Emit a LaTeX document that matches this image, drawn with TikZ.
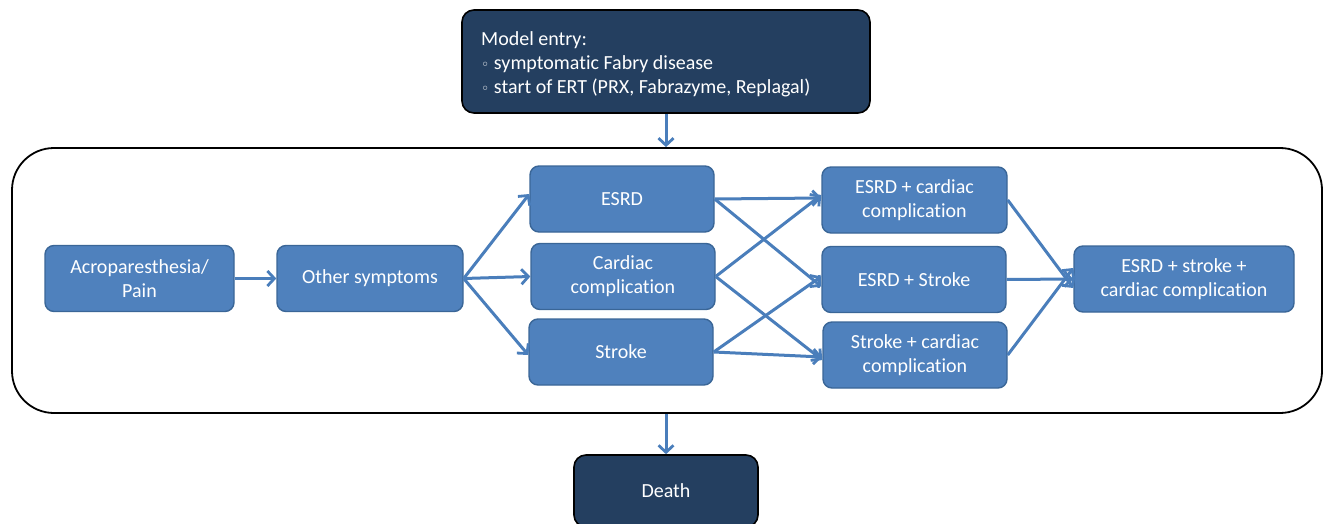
\documentclass[tikz,border=0pt]{standalone}
\usepackage{fontspec}
\setmainfont[RawFeature=-liga]{Carlito}
\newfontfamily\symfont{DejaVu Sans}
\usetikzlibrary{arrows.meta}
\definecolor{boxfill}{HTML}{4F81BD}
\definecolor{boxline}{HTML}{3A6697}
\definecolor{darkfill}{HTML}{243F60}
\definecolor{arrowc}{HTML}{4A7EBB}
\tikzset{
  txt/.style={font=\fontsize{20}{24}\selectfont, text=white},
  bluebox/.style={txt, draw=boxline, fill=boxfill, line width=1.4pt, rounded corners=9pt,
    align=center, inner sep=0pt, minimum width=184pt, minimum height=66pt},
  darkbox/.style={txt, draw=black, fill=darkfill, line width=1.6pt, rounded corners=12pt,
    align=center, inner sep=0pt},
  arr/.style={draw=arrowc, line width=3pt, -{Straight Barb[length=7pt,width=15pt,line width=2.8pt]}},
  frame/.style={draw=black, line width=1.8pt, rounded corners=42pt, inner sep=0pt},
}
\begin{document}
\begin{tikzpicture}[x=1pt,y=-1pt]
\useasboundingbox (0,0) rectangle (1327,524);
\node[frame, minimum width=1310pt, minimum height=265pt] (frame) at (667,280.5) {};
\node[darkbox, minimum width=408pt, minimum height=103pt] (entry) at (666,61.5) {};
\node[txt, anchor=west, align=left, inner sep=0pt] (entrytext) at (481,64)
  {Model entry:\\{\symfont\fontsize{14}{14}\selectfont ◦} symptomatic Fabry disease\\{\symfont\fontsize{14}{14}\selectfont ◦} start of ERT (PRX, Fabrazyme, Replagal)};
\node[darkbox, minimum width=184pt, minimum height=72pt] (death) at (666,491) {Death};
\node[bluebox, minimum width=189pt] (acro) at (139.5,278.5) {Acroparesthesia/\\Pain};
\node[bluebox, minimum width=186pt] (other) at (370,278.5) {Other symptoms};
\node[bluebox] (esrd) at (622,199) {ESRD};
\node[bluebox] (card) at (623,276.5) {Cardiac\\complication};
\node[bluebox] (stroke) at (621,352) {Stroke};
\node[bluebox, minimum width=185pt] (ec) at (914.5,200) {ESRD + cardiac\\complication};
\node[bluebox] (es) at (914,279.5) {ESRD + Stroke};
\node[bluebox] (sc) at (915,355) {Stroke + cardiac\\complication};
\node[bluebox, minimum width=220pt] (all) at (1184,279) {ESRD + stroke +\\cardiac complication};
\draw[arr] (entry.south) -- (frame.north -| entry.south);
\draw[arr] (frame.south -| death.north) -- (death.north);
\draw[arr] (acro.east) -- (other.west);
\draw[arr] (other.east) -- ([yshift=5pt]esrd.west);
\draw[arr] (other.east) -- (card.west);
\draw[arr] (other.east) -- ([yshift=-3pt]stroke.west);
\draw[arr] (esrd.east) -- ([yshift=2pt]ec.west);
\draw[arr] (esrd.east) -- ([yshift=-7pt]es.west);
\draw[arr] (card.east) -- ([yshift=5pt]ec.west);
\draw[arr] (card.east) -- ([yshift=-5pt]sc.west);
\draw[arr] (stroke.east) -- ([yshift=3pt]es.west);
\draw[arr] (stroke.east) -- ([yshift=-2pt]sc.west);
\draw[arr] (ec.east) -- ([yshift=-9pt]all.west);
\draw[arr] (es.east) -- (all.west);
\draw[arr] (sc.east) -- ([yshift=11pt]all.west);
\end{tikzpicture}
\end{document}
